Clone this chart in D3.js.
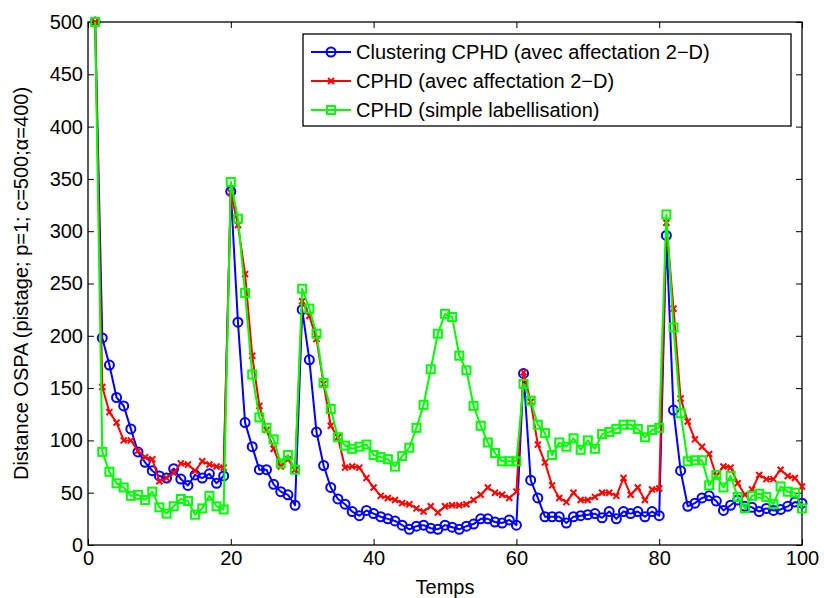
<!DOCTYPE html>
<html>
<head>
<meta charset="utf-8">
<script src="https://cdn.jsdelivr.net/npm/d3@7"></script>
<style>
  body { margin: 0; background: #fff; }
  text { font-family: "Liberation Sans", Arial, Helvetica, sans-serif; }
</style>
</head>
<body>
<svg id="chart" width="824" height="598"></svg>
<script>
// t = 1..100
var temps = d3.range(1, 101);

var clusteringCphd = [500,198,172,141,133,111,89,79,71,66,64,73,63,57,67,64,68,59,66,338,
  213,117,94,72,72,58,51,48,38,225,177,108,76,55,44,39,32,28,33,30,
  27,25,23,19,15,18,19,16,15,19,17,15,18,20,25,25,22,21,24,19,
  164,62,45,27,27,27,21,27,28,29,30,26,32,25,32,30,32,27,32,28,
  296,129,71,37,40,45,47,42,33,38,43,37,36,32,35,33,34,37,41,40];

var cphdAffect = [500,151,127,117,100,100,90,84,82,61,64,69,78,77,71,80,77,75,74,337,
  306,259,181,133,110,92,75,82,72,233,219,197,154,114,103,74,75,74,64,55,
  47,45,43,40,39,35,32,37,31,37,38,38,39,43,48,55,50,48,45,51,
  165,137,96,79,57,45,41,50,43,43,46,50,50,47,64,48,55,43,53,54,
  308,226,140,118,101,94,87,66,75,74,59,48,53,67,63,63,72,66,64,56];

var cphdSimple = [500,89,70,59,55,47,48,43,51,36,30,37,44,42,29,35,47,37,34,347,
  312,241,163,122,112,101,78,86,72,245,226,202,155,130,103,95,92,94,96,86,
  84,82,75,85,93,112,134,168,202,221,218,181,167,133,114,98,88,80,80,80,
  154,138,115,107,86,98,94,102,91,100,92,106,108,111,115,115,111,103,110,112,
  316,208,126,80,81,81,57,67,55,66,46,35,47,49,46,39,56,51,50,35];

var legendLabels = ["Clustering CPHD (avec affectation 2\u2212D)",
  "CPHD (avec affectation 2\u2212D)",
  "CPHD (simple labellisation)"];
var xTicks = [0, 20, 40, 60, 80, 100];
var yTicks = d3.range(0, 501, 50);

var svg = d3.select("#chart"),
  margin = {top: 22, right: 22, bottom: 53, left: 88},
  width = +svg.attr("width") - margin.left - margin.right,
  height = +svg.attr("height") - margin.top - margin.bottom,
  g = svg.append("g").attr("transform", "translate(" + margin.left + "," + margin.top + ")");

var x = d3.scaleLinear().domain([0, 100]).range([0, width]);
var y = d3.scaleLinear().domain([0, 500]).range([height, 0]);

// axes, MATLAB style ticks pointing inwards
function styleAxis(sel) {
  sel.select(".domain").remove();
  sel.selectAll(".tick line").attr("stroke", "#000");
  sel.selectAll(".tick text").attr("fill", "#000").style("font-size", "20px");
}

g.append("g")
  .attr("transform", "translate(0," + height + ")")
  .call(d3.axisBottom(x).tickValues(xTicks).tickSize(-6).tickPadding(6))
  .call(styleAxis);

g.append("g")
  .call(d3.axisLeft(y).tickValues(yTicks).tickSize(-6).tickPadding(5))
  .call(styleAxis);

g.append("g")
  .call(d3.axisTop(x).tickValues(xTicks).tickSize(-6).tickFormat(""))
  .call(styleAxis);

g.append("g")
  .attr("transform", "translate(" + width + ",0)")
  .call(d3.axisRight(y).tickValues(yTicks).tickSize(-6).tickFormat(""))
  .call(styleAxis);

g.append("rect")
  .attr("width", width)
  .attr("height", height)
  .attr("fill", "none")
  .attr("stroke", "#000")
  .attr("stroke-width", 1.3);

var line = d3.line()
  .x(function(d, i) { return x(temps[i]); })
  .y(function(d) { return y(d); });

var series = [
  {values: clusteringCphd, color: "#0000ff", marker: "circle"},
  {values: cphdAffect, color: "#ff0000", marker: "cross"},
  {values: cphdSimple, color: "#00ff00", marker: "square"}
];

function drawMarker(sel, marker, color, cx, cy) {
  if (marker === "circle") {
    sel.append("circle").attr("cx", cx).attr("cy", cy).attr("r", 4.5)
      .attr("fill", "none").attr("stroke", color).attr("stroke-width", 2);
  } else if (marker === "square") {
    sel.append("rect").attr("x", cx - 4).attr("y", cy - 4)
      .attr("width", 8).attr("height", 8)
      .attr("fill", "none").attr("stroke", color).attr("stroke-width", 2);
  } else {
    sel.append("path")
      .attr("d", "M" + (cx - 3) + "," + (cy - 3) + "L" + (cx + 3) + "," + (cy + 3) +
        "M" + (cx - 3) + "," + (cy + 3) + "L" + (cx + 3) + "," + (cy - 3))
      .attr("stroke", color).attr("stroke-width", 2);
  }
}

series.forEach(function(s) {
  g.append("path")
    .datum(s.values)
    .attr("d", line)
    .attr("fill", "none")
    .attr("stroke", s.color)
    .attr("stroke-width", 2)
    .attr("stroke-linejoin", "round");

  var mg = g.append("g");
  s.values.forEach(function(v, i) {
    drawMarker(mg, s.marker, s.color, x(temps[i]), y(v));
  });
});

// legend
var lg = svg.append("g").attr("transform", "translate(303,34)");
lg.append("rect")
  .attr("width", 488)
  .attr("height", 92)
  .attr("fill", "#fff")
  .attr("stroke", "#000")
  .attr("stroke-width", 1.3);

series.forEach(function(s, i) {
  var ly = 18 + i * 29;
  lg.append("line")
    .attr("x1", 8).attr("x2", 48)
    .attr("y1", ly).attr("y2", ly)
    .attr("stroke", s.color).attr("stroke-width", 2);
  drawMarker(lg, s.marker, s.color, 28, ly);
  lg.append("text")
    .attr("x", 53)
    .attr("y", ly)
    .attr("dy", "0.35em")
    .style("font-size", "20px")
    .text(legendLabels[i]);
});

// axis titles
svg.append("text")
  .attr("x", margin.left + width / 2)
  .attr("y", 594)
  .attr("text-anchor", "middle")
  .style("font-size", "20px")
  .text("Temps");

svg.append("text")
  .attr("transform", "translate(28," + (margin.top + height / 2) + ") rotate(-90)")
  .attr("text-anchor", "middle")
  .style("font-size", "20px")
  .text("Distance OSPA (pistage; p=1; c=500;\u03b1=400)");
</script>
</body>
</html>
